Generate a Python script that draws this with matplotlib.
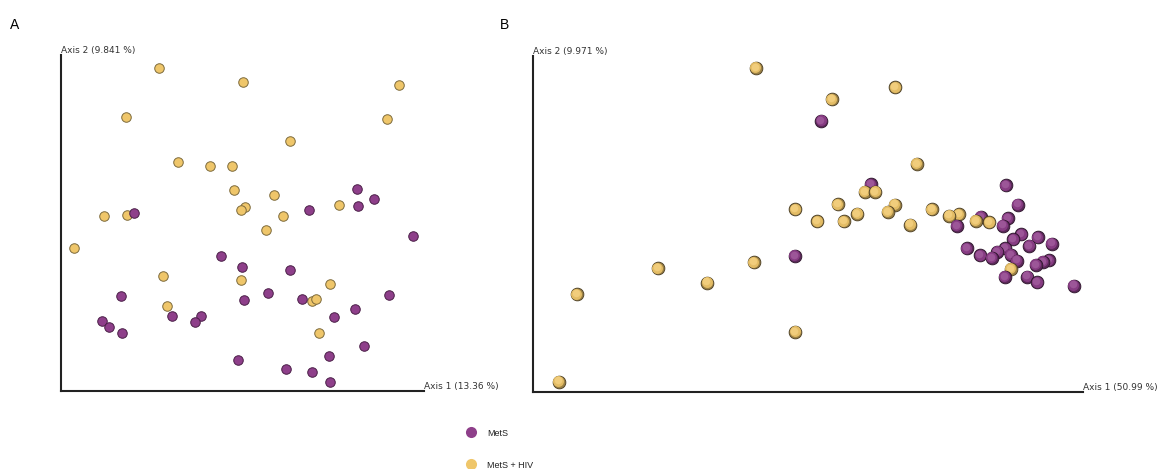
import numpy as np
import matplotlib
matplotlib.use("Agg")
import matplotlib.pyplot as plt
from matplotlib.colors import to_rgb

# PCoA coordinates (arbitrary units, origin = lower-left corner of the axes)
groups = ["MetS", "MetS + HIV"]

# Panel A
a_mets_x = [295.7, 313, 296.7, 248, 73.3, 351.7, 159.7, 181, 228.7, 59.7, 328, 206.7, 183, 240.7,
            111.3, 140.3, 134.3, 273.3, 294, 40.5, 47.7, 61.3, 303.3, 177, 267.7, 224.7, 250.7, 269.3]
a_mets_y = [201.7, 191.7, 184.7, 180.7, 177.7, 155, 135.3, 123.7, 120.7, 95, 96.3, 97.7, 91.3, 92.3,
            74.7, 75.3, 69, 74.3, 82, 70.5, 64.3, 57.7, 44.7, 31, 34.7, 21.7, 19, 9]
a_hiv_x = [97.7, 182, 338.3, 64.7, 326.3, 228.7, 116.7, 149, 171, 173.3, 213, 277.7, 183.7,
           179.7, 221.7, 205.3, 42.7, 65.7, 12.7, 101.7, 179.7, 268.7, 251, 255, 106, 258]
a_hiv_y = [323, 308.7, 306, 274, 272, 250.3, 229.3, 225.3, 225, 200.7, 195.7, 186, 184.3,
           181, 174.7, 161.3, 175.3, 175.7, 143, 114.7, 111.3, 107.3, 90, 91.7, 85.3, 58.3]

# Panel B
b_mets_x = [261.7, 288.3, 337.7, 424, 447.7, 472.7, 485, 469.7, 475, 433.7, 447.3, 458.7, 464.3, 472.3,
            478, 483.7, 480.3, 488.3, 496.3, 505, 519, 503, 509.7, 515.7, 471.7, 494.3, 504.3, 540.7]
b_mets_y = [136, 271, 207.7, 166, 175, 206.7, 187.3, 166.3, 173.7, 143.7, 136.7, 134, 140, 143.7,
            137, 131.3, 152.7, 157.7, 146, 154.7, 148.3, 127, 130, 131.7, 115, 115.3, 109.7, 106.3]
b_hiv_x = [26, 43.7, 125, 174.3, 220.7, 262.3, 222.7, 362.3, 299, 383.7, 332, 342.3, 262.3,
           305, 284.3, 311, 324.3, 355, 362, 377.3, 398.7, 416.3, 425.7, 442.7, 456.3, 477.7]
b_hiv_y = [10.3, 97.7, 123.7, 109.3, 129.7, 60, 324, 304.7, 292.7, 228, 200, 200, 182.7,
           187.7, 170.7, 170.7, 178, 180, 187.3, 167.3, 182.7, 176.3, 177.7, 171, 169.7, 123]

a_labels = ("Axis 1 (13.36 %)", "Axis 2 (9.841 %)")
b_labels = ("Axis 1 (50.99 %)", "Axis 2 (9.971 %)")

purple = "#8e3f8a"
yellow = "#efc66a"

W, H = 1158, 469
fig = plt.figure(figsize=(W / 100, H / 100), dpi=100)


def make_axes(left, top, right, bottom):
    ax = fig.add_axes([left / W, (H - bottom) / H, (right - left) / W, (bottom - top) / H])
    ax.set_xlim(0, right - left)
    ax.set_ylim(0, bottom - top)
    for s in ["top", "right"]:
        ax.spines[s].set_visible(False)
    for s in ["left", "bottom"]:
        ax.spines[s].set_linewidth(1.5)
        ax.spines[s].set_color("#222222")
    ax.set_xticks([])
    ax.set_yticks([])
    return ax


def axis_text(ax, labels):
    ax.text(1.0, 0.0, labels[0], transform=ax.transAxes, ha="left", va="bottom",
            fontsize=6.5, color="#333333")
    ax.text(0.0, 1.0, labels[1], transform=ax.transAxes, ha="left", va="bottom",
            fontsize=6.5, color="#333333")


def shade(c, f):
    r = np.array(to_rgb(c))
    if f < 0:
        return tuple(r * (1 + f))
    return tuple(r + (1 - r) * f)


# ---- Panel A (flat dots) ----
axA = make_axes(61, 55, 424, 391)
axA.scatter(a_hiv_x, a_hiv_y, s=47, color=yellow, edgecolor="#7d6a3c", linewidth=0.7, clip_on=False, zorder=3)
axA.scatter(a_mets_x, a_mets_y, s=47, color=purple, edgecolor="#4a1f47", linewidth=0.7, clip_on=False, zorder=4)
axis_text(axA, a_labels)

# ---- Panel B (shaded spheres) ----
axB = make_axes(533, 56, 1083, 392)
pts = [(x, y, purple) for x, y in zip(b_mets_x, b_mets_y)] + \
      [(x, y, yellow) for x, y in zip(b_hiv_x, b_hiv_y)]
pts.sort(key=lambda p: -p[1])  # lower points drawn in front
for i, (x, y, c) in enumerate(pts):
    z = 3 + i * 0.01
    axB.scatter([x], [y], s=84, color=shade(c, -0.35), edgecolor=shade(c, -0.7),
                linewidth=0.6, clip_on=False, zorder=z)
    axB.scatter([x - 0.6], [y + 0.7], s=62, color=shade(c, -0.05), linewidth=0,
                clip_on=False, zorder=z + 0.001)
    axB.scatter([x - 1.2], [y + 1.4], s=30, color=shade(c, 0.12), linewidth=0,
                clip_on=False, zorder=z + 0.002)
axis_text(axB, b_labels)

# panel letters
fig.text(10 / W, 1 - 25 / H, "A", fontsize=10, family="Liberation Sans", va="center", ha="left")
fig.text(500 / W, 1 - 25 / H, "B", fontsize=10, family="Liberation Sans", va="center", ha="left")

# legend
leg = fig.add_axes([0, 0, 1, 1], facecolor="none")
leg.set_xlim(0, W)
leg.set_ylim(H, 0)
leg.axis("off")
for (yy, c, name) in [(432.5, purple, groups[0]), (464.5, yellow, groups[1])]:
    leg.scatter([470.5], [yy], s=64, color=c, linewidth=0)
    leg.text(487, yy + 0.5, name, fontsize=6.5, family="Liberation Sans", va="center", ha="left",
             color="#222222")

fig.savefig("out.png", dpi=100)
